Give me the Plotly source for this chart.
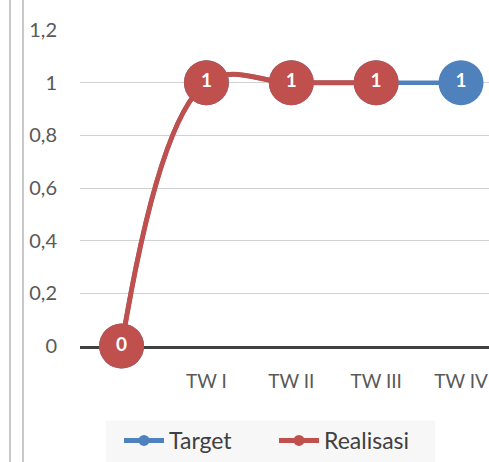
import plotly.graph_objects as go

categories = ["", "TW I", "TW II", "TW III", "TW IV"]
target = [0, 1, 1, 1, 1]
realisasi = [0, 1, 1, 1, None]

BLUE = "#4F81BD"
RED = "#C0504D"
FONT = "Lato, Open Sans, sans-serif"

x_idx = list(range(len(categories)))

fig = go.Figure()

fig.add_trace(go.Scatter(
    x=x_idx, y=target, mode="lines+markers+text", name="Target",
    line=dict(color=BLUE, width=4.5, shape="spline", smoothing=1.1),
    marker=dict(size=45, color=BLUE),
    text=[str(v) for v in target], textposition="middle center",
    textfont=dict(color="white", size=19, family=FONT, weight="bold"),
    cliponaxis=False, showlegend=False))

fig.add_trace(go.Scatter(
    x=x_idx, y=realisasi, mode="lines+markers+text", name="Realisasi",
    line=dict(color=RED, width=5, shape="spline", smoothing=1.1),
    marker=dict(size=45, color=RED),
    text=[str(v) if v is not None else "" for v in realisasi],
    textposition="middle center",
    textfont=dict(color="white", size=19, family=FONT, weight="bold"),
    cliponaxis=False, showlegend=False))

# legend entries
fig.add_trace(go.Scatter(x=[None], y=[None], mode="lines+markers", name="Target",
                         line=dict(color=BLUE, width=5), marker=dict(size=11, color=BLUE)))
fig.add_trace(go.Scatter(x=[None], y=[None], mode="lines+markers", name="Realisasi",
                         line=dict(color=RED, width=5), marker=dict(size=11, color=RED)))

L, T, B = 80, 30, 110
W, H = 489, 462
pw = W - L
ph = H - T - B

def px_to_paper_x(px):
    return (px - L) / pw

def py_to_paper_y(py):
    return (H - B - py) / ph

fig.update_layout(
    width=W, height=H,
    margin=dict(l=L, r=0, t=T, b=B),
    plot_bgcolor="white", paper_bgcolor="white",
    separators=",.",
    font=dict(family=FONT, size=20, color="#595959"),
    hovermode=False,
    xaxis=dict(
        range=[-0.49, 4.33], tickmode="array", tickvals=x_idx, ticktext=categories,
        showgrid=False, zeroline=False, showline=True, linecolor="#404040", linewidth=3,
        layer="below traces", ticklabeloverflow="allow",
        ticks="", ticklabelstandoff=16, tickfont=dict(size=19, color="#595959"),
        fixedrange=True),
    yaxis=dict(
        range=[0, 1.2], dtick=0.2, showgrid=True, gridcolor="#d2d2d2", gridwidth=1,
        zeroline=False, showline=False, ticks="", ticklabelstandoff=22,
        layer="below traces",
        tickfont=dict(size=20, color="#595959"), fixedrange=True),
    legend=dict(orientation="h", x=px_to_paper_x(274), xanchor="center",
                y=py_to_paper_y(427), yanchor="top",
                bgcolor="rgba(0,0,0,0)", font=dict(size=23, color="#404040"),
                itemwidth=40, entrywidth=100),
    shapes=[
        dict(type="rect", xref="paper", yref="paper", layer="below",
             x0=px_to_paper_x(106), x1=px_to_paper_x(435),
             y0=py_to_paper_y(H + 10), y1=py_to_paper_y(428),
             fillcolor="#f7f7f7", line=dict(width=0)),
        dict(type="line", xref="paper", yref="paper",
             x0=px_to_paper_x(10), x1=px_to_paper_x(10),
             y0=py_to_paper_y(H + 10), y1=py_to_paper_y(-10),
             line=dict(color="#c8c8c8", width=2)),
        dict(type="line", xref="paper", yref="paper",
             x0=px_to_paper_x(23), x1=px_to_paper_x(23),
             y0=py_to_paper_y(H + 10), y1=py_to_paper_y(-10),
             line=dict(color="#c8c8c8", width=2)),
    ],
)

fig.write_html("out.html", config={"displayModeBar": False, "staticPlot": True},
               post_script="document.body.style.margin='0';document.body.style.overflow='hidden';")
